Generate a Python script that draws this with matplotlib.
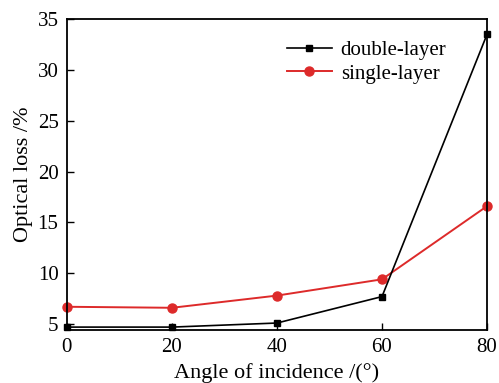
import matplotlib
matplotlib.use("Agg")
import matplotlib.pyplot as plt

angles = [0, 20, 40, 60, 80]
double_layer = [4.7, 4.7, 5.1, 7.7, 33.5]
single_layer = [6.7, 6.6, 7.8, 9.4, 16.6]
x_ticks = [0, 20, 40, 60, 80]
y_ticks = [5, 10, 15, 20, 25, 30, 35]

plt.rcParams["font.family"] = ["Liberation Serif", "DejaVu Serif"]

fig = plt.figure(figsize=(4.99, 3.83), dpi=100)
ax = fig.add_axes([0.134, 0.138, 0.842, 0.812])

ax.plot(angles, double_layer, color="black", lw=1.2, marker="s", ms=5,
        label="double-layer", clip_on=False, zorder=3)
ax.plot(angles, single_layer, color="#dd2a2a", lw=1.4, marker="o", ms=6.5,
        label="single-layer", clip_on=False, zorder=2)

ax.set_xlim(0, 80)
ax.set_ylim(4.4, 35)
ax.set_xticks(x_ticks)
ax.set_yticks(y_ticks)
ax.tick_params(direction="in", length=5, width=1, labelsize=15, pad=6,
               top=False, right=False)
for s in ax.spines.values():
    s.set_linewidth(1.3)

ax.set_xlabel("Angle of incidence /(°)", fontsize=16, labelpad=4)
ax.set_ylabel("Optical loss /%", fontsize=16, labelpad=3)

ax.legend(loc="upper right", bbox_to_anchor=(0.948, 0.992), frameon=False,
          fontsize=15, handlelength=2.2, handletextpad=0.4, labelspacing=0.2)

fig.savefig("out.png", dpi=100)
